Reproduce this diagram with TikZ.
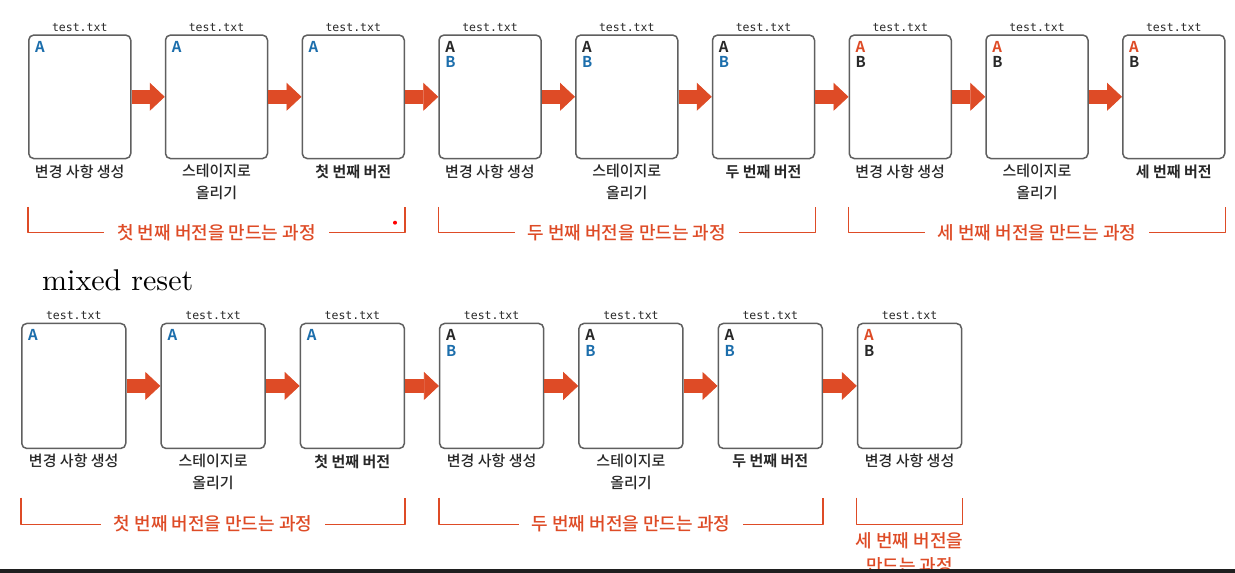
\documentclass[tikz,border=0pt]{standalone}
\usepackage{fontspec}
\newfontfamily\kr{Noto Sans CJK KR}[BoldFont={Noto Sans CJK KR Bold}]
\newfontfamily\krm{Noto Sans CJK KR Medium}
\newfontfamily\mono{DejaVu Sans Mono}
\newfontfamily\lmten{lmroman10-regular.otf}
\usetikzlibrary{arrows.meta}
\definecolor{accent}{RGB}{222,75,38}
\definecolor{fblue}{RGB}{28,110,172}
\definecolor{boxgray}{RGB}{95,95,95}
\definecolor{ink}{RGB}{40,40,40}
\tikzset{
  filebox/.style={draw=boxgray, line width=1.5pt, rounded corners=5pt, anchor=north west, inner sep=0pt},
  fname/.style={anchor=base, inner sep=0pt, yshift=2.8pt, text=ink, font=\mono\fontsize{11.5}{12}\selectfont},
  letter/.style={anchor=base west, inner sep=0pt, font=\kr\bfseries\fontsize{15}{15}\selectfont},
  lbl/.style={anchor=north, align=center, inner sep=0pt, yshift=-5pt, text=ink, font=\krm\fontsize{15}{22}\selectfont},
  fat/.style={draw=accent, line width=14pt, -{Triangle[length=15pt, width=28pt, line width=0.8pt]}},
  brk/.style={draw=accent, line width=1.3pt},
  captxt/.style={fill=white, inner xsep=13pt, inner ysep=2pt, text=accent, font=\krm\fontsize{18}{25}\selectfont},
}
\begin{document}
\begin{tikzpicture}[x=1pt, y=-1pt, line join=round]
\fill[white] (0,0) rectangle (1235,573);
\useasboundingbox (0,0) rectangle (1235,573);
\def\xa{28} \def\dxa{136.75} \def\ya{34.3} % hang tren
\def\xb{21} \def\dxb{139.3} \def\yb{322.7} % hang duoi
% hang tren
\foreach \i in {1,...,9}{
  \node[filebox, minimum width=102pt, minimum height=123.5pt] (t\i) at ({\xa+(\i-1)*\dxa},\ya) {};
  \node[fname] (tn\i) at (t\i.north) {test.txt};
}
\foreach \i [count=\j from 2] in {1,...,8} \draw[fat] (t\i.east) -- (t\j.west);
\foreach \i in {1,2,3} \node[letter, text=fblue] (ta\i) at ([shift={(7pt,-18.4pt)}]t\i.north west) {A};
\foreach \i in {4,5,6}{
  \node[letter, text=ink] (ta\i) at ([shift={(7pt,-18.4pt)}]t\i.north west) {A};
  \node[letter, text=fblue] (tb\i) at ([shift={(7pt,-33.6pt)}]t\i.north west) {B};
}
\foreach \i in {7,8,9}{
  \node[letter, text=accent] (ta\i) at ([shift={(7pt,-18.4pt)}]t\i.north west) {A};
  \node[letter, text=ink] (tb\i) at ([shift={(7pt,-33.6pt)}]t\i.north west) {B};
}
\foreach \i/\s in {1/{변경 사항 생성}, 2/{스테이지로\\올리기}, 3/{\kr\bfseries 첫 번째 버전},
  4/{변경 사항 생성}, 5/{스테이지로\\올리기}, 6/{\kr\bfseries 두 번째 버전},
  7/{변경 사항 생성}, 8/{스테이지로\\올리기}, 9/{\kr\bfseries 세 번째 버전}}
  \node[lbl] (tl\i) at (t\i.south) {\s};
\foreach \a/\b/\s [count=\k] in {1/3/{첫 번째 버전을 만드는 과정}, 4/6/{두 번째 버전을 만드는 과정}, 7/9/{세 번째 버전을 만드는 과정}}
  \draw[brk] ([yshift=-47.5pt]t\a.south west) |- ([yshift=-73.5pt]t\b.south east)
    node[captxt, pos=0.75] (tc\k) {\s} -- ([yshift=-47.5pt]t\b.south east);
\fill[red] (395,222.7) circle (2pt);
% mixed reset
\node[anchor=base west, inner sep=0pt, font=\lmten\fontsize{30}{34}\selectfont] (title) at (42,290) {mixed reset};
\foreach \i in {1,...,7}{
  \node[filebox, minimum width=104pt, minimum height=125pt] (b\i) at ({\xb+(\i-1)*\dxb},\yb) {};
  \node[fname] (bn\i) at (b\i.north) {test.txt};
}
\foreach \i [count=\j from 2] in {1,...,6} \draw[fat] (b\i.east) -- (b\j.west);
\foreach \i in {1,2,3} \node[letter, text=fblue] (ba\i) at ([shift={(7pt,-17.8pt)}]b\i.north west) {A};
\foreach \i in {4,5,6}{
  \node[letter, text=ink] (ba\i) at ([shift={(7pt,-17.8pt)}]b\i.north west) {A};
  \node[letter, text=fblue] (bb\i) at ([shift={(7pt,-33.8pt)}]b\i.north west) {B};
}
\node[letter, text=accent] (ba7) at ([shift={(7pt,-17.8pt)}]b7.north west) {A};
\node[letter, text=ink] (bb7) at ([shift={(7pt,-33.8pt)}]b7.north west) {B};
\foreach \i/\s in {1/{변경 사항 생성}, 2/{스테이지로\\올리기}, 3/{\kr\bfseries 첫 번째 버전},
  4/{변경 사항 생성}, 5/{스테이지로\\올리기}, 6/{\kr\bfseries 두 번째 버전}, 7/{변경 사항 생성}}
  \node[lbl] (bl\i) at (b\i.south) {\s};
\foreach \a/\b/\s [count=\k] in {1/3/{첫 번째 버전을 만드는 과정}, 4/6/{두 번째 버전을 만드는 과정}}
  \draw[brk] ([yshift=-48.3pt]b\a.south west) |- ([yshift=-75pt]b\b.south east)
    node[captxt, pos=0.75] (bc\k) {\s} -- ([yshift=-48.3pt]b\b.south east);
\draw[brk] ([yshift=-48.3pt]b7.south west) |- ([yshift=-75pt]b7.south east) -- ([yshift=-48.3pt]b7.south east);
\node[captxt, fill=none, anchor=north, align=center] (bc3) at ([yshift=-81pt]b7.south) {세 번째 버전을\\만드는 과정};
\fill[black!88] (0,569) rectangle (1235,573);
\end{tikzpicture}
\end{document}
